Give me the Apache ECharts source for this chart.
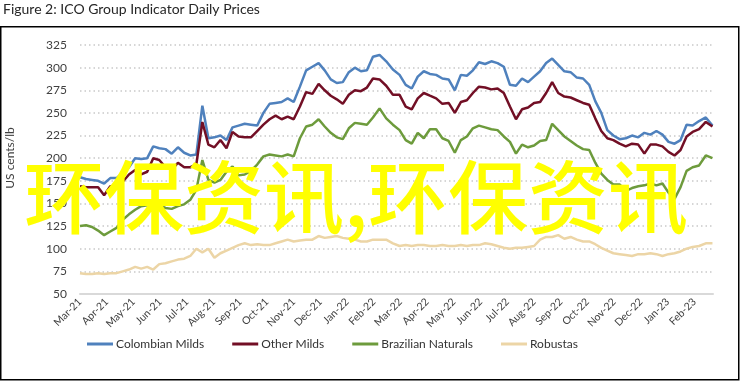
<!DOCTYPE html>
<html>
<head>
<meta charset="utf-8">
<script src="https://cdn.jsdelivr.net/npm/echarts@6/dist/echarts.min.js"></script>
<style>
html,body{margin:0;padding:0;background:#fff;}
#chart{width:740px;height:381px;}
</style>
</head>
<body>
<div id="chart"></div>
<script>
// Weekly observations starting Monday 2021-03-01
const startDate = [2021, 2, 1];
const monthLabels = ['Mar-21','Apr-21','May-21','Jun-21','Jul-21','Aug-21','Sep-21','Oct-21','Nov-21','Dec-21','Jan-22','Feb-22','Mar-22','Apr-22','May-22','Jun-22','Jul-22','Aug-22','Sep-22','Oct-22','Nov-22','Dec-22','Jan-23','Feb-23'];
const yTicks = [50, 325, 25]; // min, max, step

const colombianMilds = [179,177,176,175,172,178,178,184,190,200,199,200,213,211,210,205,212,206,203,204,258,222,223,225,220,234,236,238,237,236,250,260,261,262,266,
262,279,297,301,305,297,287,283,284,295,300,296,297,312,314,307,298,292,281,277,290,296,293,292,288,287,275,292,291,297,306,304,307,305,301,
281,280,288,284,290,296,305,310,303,296,295,289,288,281,263,250,231,225,221,222,225,223,228,226,230,226,218,216,220,237,236,241,245,236];
const otherMilds = [169,168,168,168,159,169,167,174,182,187,182,185,200,198,190,187,195,190,190,193,240,215,212,220,211,229,224,223,223,230,237,243,247,243,246,
243,257,273,271,282,275,269,265,260,270,275,274,278,288,287,280,270,270,257,254,266,272,269,266,260,261,250,262,264,272,279,278,276,277,272,
257,243,254,256,261,262,272,284,272,268,267,264,261,259,244,230,222,220,216,213,216,215,205,215,215,213,207,203,209,224,229,232,240,235];
const brazilianNaturals = [125,126,124,120,115,119,123,132,138,143,147,148,150,148,145,144,147,149,154,165,198,176,173,176,185,191,181,182,186,193,202,204,203,202,204,
202,222,235,237,243,235,228,223,221,233,239,238,237,245,255,244,237,231,220,216,228,222,232,232,222,219,206,220,224,233,236,234,232,231,224,
218,205,215,212,214,219,220,238,231,224,219,214,210,209,195,183,176,171,171,164,167,169,170,172,170,172,162,155,168,186,190,192,203,200];
const robustas = [73,72,72,73,72,73,73,75,77,80,78,80,77,83,84,86,88,89,92,100,96,100,90,95,98,101,104,106,104,105,104,104,106,108,110,
108,109,110,110,114,112,113,114,112,111,110,108,108,110,110,110,106,103,104,103,104,104,103,103,104,103,103,104,103,104,104,106,105,103,101,
100,101,101,102,103,110,113,113,115,111,113,110,108,108,105,101,98,95,94,93,92,94,94,95,94,92,94,95,97,100,102,103,106,106];

// month index (0 = 1 Mar 2021) of each weekly date
const monthIndex = colombianMilds.map((_, k) => {
  const d = new Date(Date.UTC(startDate[0], startDate[1], startDate[2] + 7 * k));
  const y = d.getUTCFullYear(), m = d.getUTCMonth(), day = d.getUTCDate();
  const dim = new Date(Date.UTC(y, m + 1, 0)).getUTCDate();
  return (y - 2021) * 12 + (m - 2) + (day - 1) / dim;
});
const pairs = arr => arr.map((v, k) => [monthIndex[k], v]);

const FONT = 'Lato, "Liberation Sans", sans-serif';
const chart = echarts.init(document.getElementById('chart'), null, {renderer: 'canvas'});
const mk = (name, arr, color) => ({
  name, type: 'line', data: pairs(arr), showSymbol: false, symbol: 'none',
  lineStyle: {color, width: 2.5}, itemStyle: {color}, smooth: false, z: 3
});
chart.setOption({
  animation: false,
  backgroundColor: '#fff',
  textStyle: {fontFamily: FONT},
  grid: {left: 80, right: 27, top: 45, bottom: 87},
  xAxis: {
    type: 'value', min: 0, max: monthIndex[monthIndex.length - 1] + 0.02, interval: 1,
    axisLine: {show: true, onZero: false, lineStyle: {color: '#d9d9d9', width: 2}},
    axisTick: {show: false},
    splitLine: {show: false},
    axisLabel: {
      rotate: 45, margin: 6, fontSize: 10.5, color: '#404040', fontFamily: FONT,
      showMaxLabel: false,
      formatter: v => (Math.abs(v - Math.round(v)) < 1e-6 && monthLabels[Math.round(v)]) ? monthLabels[Math.round(v)] : ''
    }
  },
  yAxis: {
    type: 'value', min: yTicks[0], max: yTicks[1], interval: yTicks[2],
    axisLine: {show: false}, axisTick: {show: false},
    axisLabel: {fontSize: 12, color: '#404040', margin: 13, fontFamily: FONT},
    splitLine: {show: true, lineStyle: {color: '#c9c9c9', width: 1.5, type: [1.5, 3]}}
  },
  legend: {
    left: 87, top: 338, padding: 0, icon: 'rect', itemWidth: 26, itemHeight: 3, itemGap: 28,
    textStyle: {fontSize: 12, color: '#333', fontFamily: FONT, padding: [0, 0, 0, -2]},
    data: ['Colombian Milds', 'Other Milds', 'Brazilian Naturals', 'Robustas']
  },
  series: [
    mk('Colombian Milds', colombianMilds, '#4f81bd'),
    mk('Other Milds', otherMilds, '#720f25'),
    mk('Brazilian Naturals', brazilianNaturals, '#6d9b3c'),
    mk('Robustas', robustas, '#ecd5a6')
  ],
  graphic: [
    {type: 'text', left: 3, top: 2, style: {text: 'Figure 2: ICO Group Indicator Daily Prices', fontSize: 14, fill: '#262626', fontFamily: FONT}},
    {type: 'rect', shape: {x: 0.75, y: 26.75, width: 738, height: 353}, style: {fill: 'none', stroke: '#000', lineWidth: 1.5}, silent: true},
    {type: 'text', x: 10, y: 158, rotation: Math.PI / 2, style: {text: 'US cents/lb', fontSize: 12, fill: '#404040', fontFamily: FONT, align: 'center', verticalAlign: 'middle'}},
    {type: 'text', x: 356, y: 197, z: 100, style: {text: '环保资讯,环保资讯', fontSize: 80, fontWeight: 500, fill: '#ffff00', fontFamily: '"Noto Sans CJK SC"', align: 'center', verticalAlign: 'middle'}}
  ]
});
</script>
</body>
</html>
